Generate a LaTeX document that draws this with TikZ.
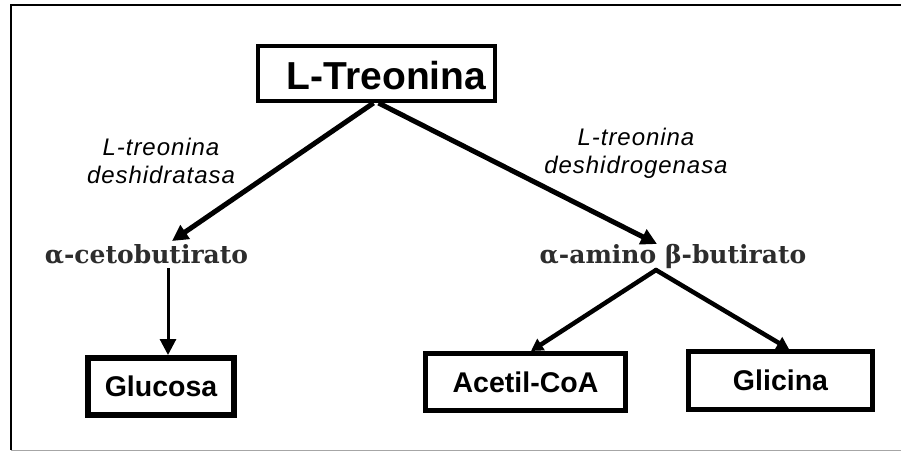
\documentclass[tikz,border=0pt]{standalone}
\usepackage{fontspec}
\setmainfont{Liberation Serif}
\setsansfont{Liberation Sans}
\newfontfamily\metabfont{DejaVu Serif}
\newfontfamily\enzfont[LetterSpace=4]{Liberation Sans}
\usetikzlibrary{arrows.meta}
\definecolor{txtgray}{RGB}{45,45,45}
\tikzset{
  boxlabel/.style={draw=black, fill=white, inner sep=0pt, font=\sffamily\bfseries\fontsize{28.5}{32}\selectfont},
  enzlabel/.style={inner sep=0pt, align=center, font=\enzfont\itshape\fontsize{24}{28}\selectfont},
  metab/.style={inner sep=0pt, anchor=base, text=txtgray, font=\metabfont\bfseries\fontsize{25}{28}\selectfont},
  mainarrow/.style={line width=5pt, -{Triangle[length=16pt,width=16pt]}},
  thinarrow/.style={line width=3pt, -{Triangle[length=16pt,width=16pt]}},
  subarrow/.style={line width=4.5pt, -{Triangle[length=12pt,width=13pt]}},
}
\begin{document}
\begin{tikzpicture}[x=1pt,y=-1pt]
\useasboundingbox (0,0) rectangle (901,451);
% frame
\draw[line width=2pt, black] (10,4.5) -- (901,4.5);
\draw[line width=2.5pt, black] (11,4) -- (11,450);
\draw[line width=1pt, black!35] (11,450) -- (901,450);
% top box
\node[draw=black, line width=4pt, minimum width=237pt, minimum height=55pt, inner sep=0pt] (treo) at (376.5,73.5) {};
\node[inner sep=0pt, font=\sffamily\bfseries\fontsize{39}{44}\selectfont] (treotxt) at (386.5,76) {L-Treonina};
% enzyme labels
\node[enzlabel, anchor=north] (enz1) at (161,137.5) {L-treonina\\deshidratasa};
\node[enzlabel, anchor=north] (enz2) at (636,127.5) {L-treonina\\deshidrogenasa};
% metabolites
\node[metab] (ceto) at (146.5,263) {α-cetobutirato};
\node[metab] (amino) at (673,263) {α-amino β-butirato};
% product boxes
\node[boxlabel, line width=6pt, minimum width=146pt, minimum height=57pt] (gluc) at (161,386.5) {Glucosa};
\node[boxlabel, line width=5pt, minimum width=200pt, minimum height=57pt] (acet) at (525.5,382) {Acetil-CoA};
\node[boxlabel, line width=5pt, minimum width=184pt, minimum height=58pt] (glic) at (780.5,380.5) {Glicina};
% connector points
\coordinate (cetoin) at (172,241);
\coordinate (aminoin) at (657,244);
\coordinate (cetoout) at (168,268);
\coordinate (aminoout) at (656,270);
\coordinate (acetin) at (531,351);
\coordinate (glicin) at (789,349);
% arrows
\draw[mainarrow] ([xshift=-3pt]treo.south) -- (cetoin);
\draw[mainarrow] ([xshift=2pt]treo.south) -- (aminoin);
\draw[thinarrow] (cetoout) -- (cetoout |- gluc.north);
\draw[subarrow, line cap=round] (aminoout) -- (acetin);
\draw[subarrow, line cap=round] (aminoout) -- (glicin);
\end{tikzpicture}
\end{document}
